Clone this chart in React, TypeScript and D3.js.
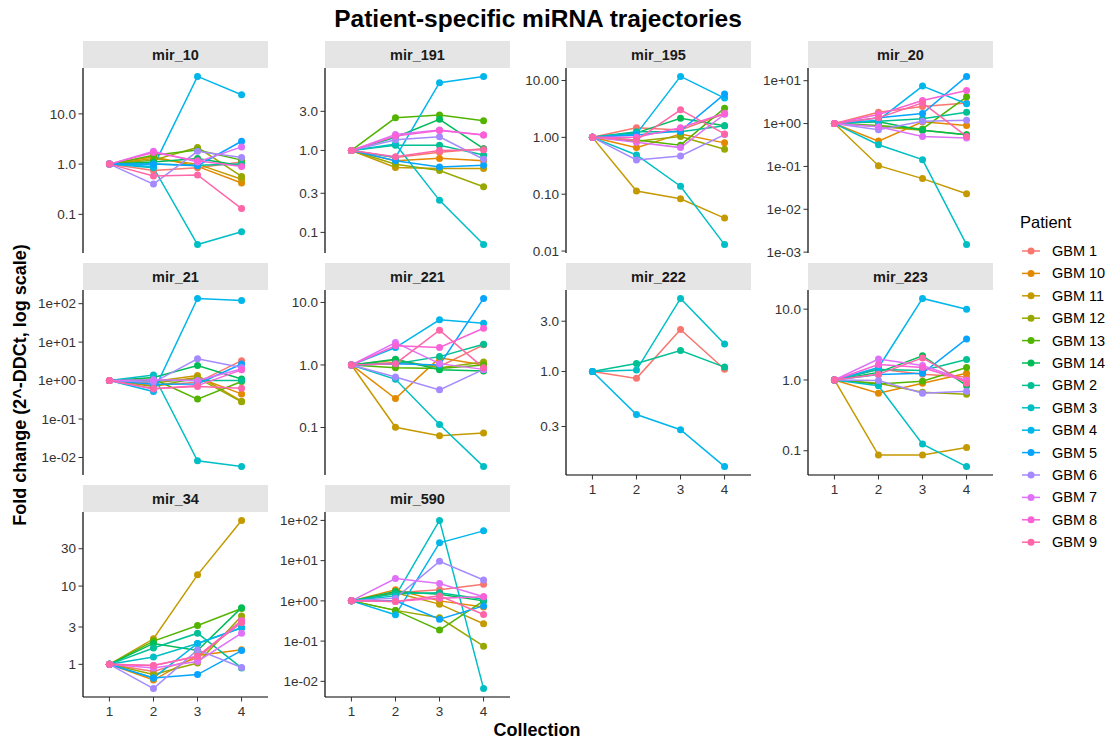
import { line, scaleLinear, scaleLog } from "d3";

const patients = [
  "GBM 1", "GBM 10", "GBM 11", "GBM 12", "GBM 13", "GBM 14", "GBM 2",
  "GBM 3", "GBM 4", "GBM 5", "GBM 6", "GBM 7", "GBM 8", "GBM 9",
];
const patientColors = [
  "#F8766D", "#E38900", "#C49A00", "#99A800", "#53B400", "#00BC56", "#00C094",
  "#00BFC4", "#00B6EB", "#06A4FF", "#A58AFF", "#DF70F8", "#FB61D7", "#FF66A8",
];
const collections = [1, 2, 3, 4];
const mirNames = [
  "mir_10", "mir_191", "mir_195", "mir_20", "mir_21",
  "mir_221", "mir_222", "mir_223", "mir_34", "mir_590",
];

// fold change per patient (rows follow `patients`), collections 1..4
const mir10 = [
  [1, 0.75, 0.85, 1.1], [1, 1.4, 0.9, 0.42], [1, 1.3, 1.0, 0.5], [1, 1.2, 2.15, 0.57],
  [1, 1.5, 1.9, 1.2], [1, 1.1, 1.3, 0.93], [1, 1.0, 0.95, 1.0], [1, 0.85, 0.025, 0.045],
  [1, 0.9, 55.7, 24], [1, 1.0, 0.93, 2.85], [1, 0.4, 1.8, 1.35], [1, 1.8, 1.1, 2.2],
  [1, 1.7, 1.17, 0.9], [1, 0.58, 0.61, 0.13],
];
const mir191 = [
  [1, 0.82, 0.95, 1.05], [1, 0.75, 0.8, 0.75], [1, 0.62, 0.6, 0.6], [1, 0.68, 0.57, 0.36],
  [1, 2.5, 2.7, 2.3], [1, 1.45, 2.4, 1.05], [1, 1.16, 1.16, 0.88], [1, 1.2, 0.246, 0.071],
  [1, 0.82, 6.7, 8.0], [1, 0.75, 0.63, 0.66], [1, 1.35, 1.47, 0.78], [1, 1.57, 1.77, 1.54],
  [1, 1.5, 1.75, 1.54], [1, 0.84, 1.0, 1.02],
];
const mir195 = [
  [1, 1.48, 1.35, 2.6], [1, 0.66, 1.15, 0.8], [1, 0.114, 0.083, 0.038], [1, 0.85, 1.03, 0.62],
  [1, 0.9, 0.73, 3.26], [1, 1.2, 2.17, 1.6], [1, 1.26, 1.25, 1.6], [1, 0.49, 0.138, 0.013],
  [1, 1.15, 11.8, 4.9], [1, 1.1, 1.3, 5.76], [1, 0.4, 0.47, 1.12], [1, 0.82, 0.66, 2.55],
  [1, 1.0, 1.48, 2.66], [1, 0.9, 3.05, 1.15],
];
const mir20 = [
  [1, 1.84, 2.5, 3.0], [1, 0.39, 1.1, 0.9], [1, 0.104, 0.052, 0.023], [1, 0.85, 0.7, 0.55],
  [1, 0.9, 0.75, 4.2], [1, 1.1, 0.7, 0.55], [1, 1.13, 1.3, 1.84], [1, 0.32, 0.144, 0.0015],
  [1, 1.2, 7.5, 2.9], [1, 1.36, 1.71, 12.6], [1, 0.72, 1.13, 1.2], [1, 0.84, 0.5, 0.46],
  [1, 1.62, 3.45, 5.9], [1, 1.36, 3.04, 0.5],
];
const mir21 = [
  [1, 0.75, 0.9, 3.3], [1, 0.85, 1.2, 0.45], [1, 0.95, 1.35, 0.29], [1, 0.7, 1.17, 0.28],
  [1, 1.1, 0.33, 0.95], [1, 1.2, 2.46, 1.1], [1, 1.0, 1.0, 1.0], [1, 1.4, 0.0082, 0.0058],
  [1, 0.52, 137, 120], [1, 0.8, 0.82, 2.7], [1, 0.9, 3.67, 2.2], [1, 1.05, 1.0, 2.0],
  [1, 0.6, 0.74, 1.9], [1, 0.62, 0.7, 0.63],
];
const mir221 = [
  [1, 1.1, 0.95, 2.1], [1, 0.29, 1.3, 1.0], [1, 0.101, 0.074, 0.082], [1, 1.2, 0.9, 1.12],
  [1, 0.9, 0.88, 1.0], [1, 1.23, 0.84, 0.8], [1, 1.05, 1.36, 2.15], [1, 0.59, 0.112, 0.0237],
  [1, 1.9, 5.27, 4.66], [1, 1.05, 1.0, 11.6], [1, 0.64, 0.4, 0.85], [1, 2.28, 1.05, 0.85],
  [1, 2.02, 1.9, 3.87], [1, 1.05, 3.6, 0.9],
];
const mir222 = [
  [1, 0.86, 2.5, 1.05], null, null, null, null, null, [1, 1.19, 1.58, 1.1],
  [1, 1.03, 4.94, 1.82], [1, 0.39, 0.28, 0.125], null, null, null, null, null,
];
const mir223 = [
  [1, 1.43, 1.2, 1.1], [1, 0.65, 0.9, 1.24], [1, 0.087, 0.087, 0.111], [1, 0.9, 0.67, 0.63],
  [1, 0.88, 0.96, 1.5], [1, 1.28, 2.2, 0.83], [1, 1.4, 1.36, 1.94], [1, 0.83, 0.124, 0.0597],
  [1, 1.5, 14.2, 9.95], [1, 1.19, 1.24, 3.8], [1, 0.98, 0.65, 0.69], [1, 1.98, 1.6, 0.98],
  [1, 1.65, 1.5, 0.95], [1, 1.2, 2.05, 0.9],
];
const mir34 = [
  [1, 0.81, 1.2, 3.65], [1, 0.63, 1.3, 1.54], [1, 2.12, 13.9, 69], [1, 0.74, 1.04, 4.15],
  [1, 1.98, 3.14, 5.16], [1, 1.85, 1.5, 5.3], [1, 1.62, 2.5, 0.9], [1, 1.24, 1.85, 2.93],
  [1, 0.67, 1.85, 2.93], [1, 0.67, 0.74, 1.5], [1, 0.49, 1.53, 0.91], [1, 0.9, 1.09, 2.5],
  [1, 0.97, 1.27, 3.6], [1, 0.97, 1.27, 3.4],
];
const mir590 = [
  [1, 1.6, 1.9, 2.6], [1, 1.88, 1.0, 0.7], [1, 1.6, 0.83, 0.27], [1, 0.58, 0.38, 0.075],
  [1, 0.58, 0.188, 1.0], [1, 1.71, 1.47, 1.0], [1, 1.5, 1.6, 1.1], [1, 1.33, 100, 0.0066],
  [1, 0.45, 27.7, 55], [1, 1.0, 0.35, 0.75], [1, 1.17, 9.6, 3.3], [1, 3.6, 2.7, 1.26],
  [1, 0.96, 1.17, 1.26], [1, 0.96, 1.33, 0.46],
];

const tickValues = [
  [0.1, 1, 10], [0.1, 0.3, 1, 3], [0.01, 0.1, 1, 10], [0.001, 0.01, 0.1, 1, 10],
  [0.01, 0.1, 1, 10, 100], [0.1, 1, 10], [0.3, 1, 3], [0.1, 1, 10], [1, 3, 10, 30],
  [0.01, 0.1, 1, 10, 100],
];
const tickLabels = [
  ["0.1", "1.0", "10.0"], ["0.1", "0.3", "1.0", "3.0"], ["0.01", "0.10", "1.00", "10.00"],
  ["1e-03", "1e-02", "1e-01", "1e+00", "1e+01"], ["1e-02", "1e-01", "1e+00", "1e+01", "1e+02"],
  ["0.1", "1.0", "10.0"], ["0.3", "1.0", "3.0"], ["0.1", "1.0", "10.0"], ["1", "3", "10", "30"],
  ["1e-02", "1e-01", "1e+00", "1e+01", "1e+02"],
];

const panelValues = [mir10, mir191, mir195, mir20, mir21, mir221, mir222, mir223, mir34, mir590];

const FONT = "'Liberation Sans', Arial, Helvetica, sans-serif";
const colLefts = [83, 325, 566, 808];
const stripTops = [41, 263, 485];
const panelW = 185;
const panelH = 185;
const stripH = 27;

const Panel = ({ idx }: { idx: number }) => {
  const col = idx % 4;
  const row = Math.floor(idx / 4);
  const left = colLefts[col];
  const top = stripTops[row] + stripH;
  const bottom = top + panelH;
  const showX = idx >= 6;
  const rows = panelValues[idx];

  const logs: number[] = [];
  rows.forEach((r) => r && r.forEach((v) => logs.push(Math.log10(v))));
  const lo = Math.min(...logs);
  const hi = Math.max(...logs);
  const pad = (hi - lo) * 0.05;

  const y = scaleLog().domain([10 ** (lo - pad), 10 ** (hi + pad)]).range([bottom, top]);
  const x = scaleLinear().domain([0.4, 4.6]).range([left, left + panelW]);
  const path = line<number>()
    .x((_, j) => x(collections[j]))
    .y((d) => y(d));

  return (
    <g>
      <rect x={left} y={stripTops[row]} width={panelW} height={stripH} fill="#E5E5E5" />
      <text
        x={left + panelW / 2}
        y={stripTops[row] + stripH / 2 + 5}
        textAnchor="middle"
        fontSize={14.5}
        fontWeight="bold"
        fill="#1A1A1A"
      >
        {mirNames[idx]}
      </text>
      {rows.map((r, p) =>
        r ? (
          <path
            key={"l" + p}
            d={path(r) || ""}
            fill="none"
            stroke={patientColors[p]}
            strokeWidth={1.5}
          />
        ) : null
      )}
      {rows.map((r, p) =>
        r
          ? r.map((v, j) => (
              <circle
                key={"p" + p + "-" + j}
                cx={x(collections[j])}
                cy={y(v)}
                r={3.5}
                fill={patientColors[p]}
              />
            ))
          : null
      )}
      <line x1={left} x2={left} y1={top} y2={bottom} stroke="#000" strokeWidth={1.2} />
      {tickValues[idx].map((t, k) => (
        <g key={"t" + k}>
          <line x1={left - 4.5} x2={left} y1={y(t)} y2={y(t)} stroke="#333" strokeWidth={1} />
          <text x={left - 7} y={y(t) + 4.7} textAnchor="end" fontSize={13.5} fill="#333">
            {tickLabels[idx][k]}
          </text>
        </g>
      ))}
      {showX && (
        <g>
          <line x1={left} x2={left + panelW} y1={bottom} y2={bottom} stroke="#000" strokeWidth={1.2} />
          {collections.map((c) => (
            <g key={"x" + c}>
              <line x1={x(c)} x2={x(c)} y1={bottom} y2={bottom + 4.5} stroke="#333" strokeWidth={1} />
              <text x={x(c)} y={bottom + 19} textAnchor="middle" fontSize={13.5} fill="#333">
                {c}
              </text>
            </g>
          ))}
        </g>
      )}
    </g>
  );
};

const App = () => {
  const legendTop = 251;
  const legendStep = 22.4;
  return (
    <svg
      width={1110}
      height={740}
      style={{ position: "absolute", left: 0, top: 0, background: "#fff" }}
      fontFamily={FONT}
    >
      <rect width={1110} height={740} fill="#fff" />
      <text x={538} y={27} textAnchor="middle" fontSize={24.5} fontWeight="bold" fill="#000">
        Patient-specific miRNA trajectories
      </text>
      {mirNames.map((_, i) => (
        <Panel key={i} idx={i} />
      ))}
      <text
        transform="translate(26,385) rotate(-90)"
        textAnchor="middle"
        fontSize={18}
        fontWeight="bold"
        fill="#000"
      >
        Fold change (2^-DDCt, log scale)
      </text>
      <text x={537} y={736} textAnchor="middle" fontSize={18} fontWeight="bold" fill="#000">
        Collection
      </text>
      <text x={1020} y={228} fontSize={16.5} fill="#000">
        Patient
      </text>
      {patients.map((p, i) => {
        const cy = legendTop + i * legendStep;
        return (
          <g key={p}>
            <line x1={1022} x2={1040} y1={cy} y2={cy} stroke={patientColors[i]} strokeWidth={1.5} />
            <circle cx={1031} cy={cy} r={3.5} fill={patientColors[i]} />
            <text x={1052} y={cy + 5} fontSize={14.5} fill="#000">
              {p}
            </text>
          </g>
        );
      })}
    </svg>
  );
};

export default App;
